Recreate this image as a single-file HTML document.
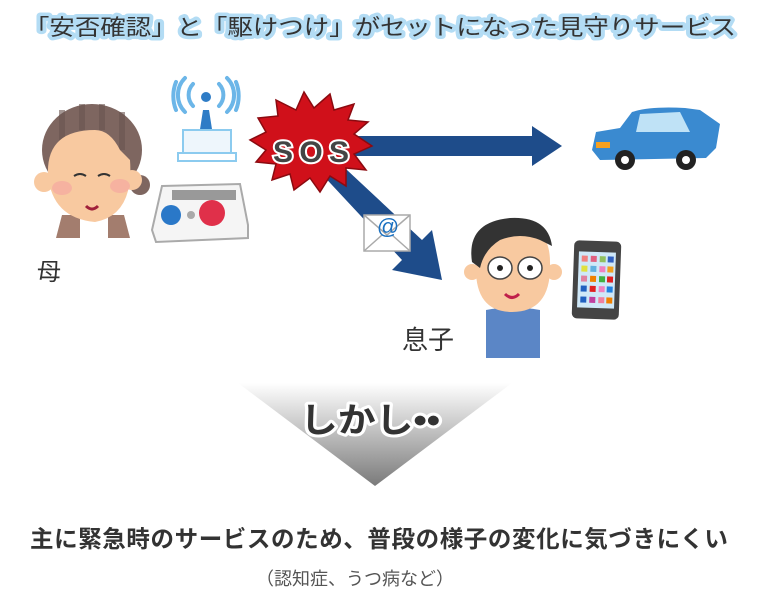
<!DOCTYPE html>
<html><head><meta charset="utf-8"><style>
html,body{margin:0;padding:0;background:#fff;}
body{width:760px;height:600px;position:relative;overflow:hidden;font-family:"Liberation Sans","Noto Sans CJK JP",sans-serif;}
.t{position:absolute;white-space:nowrap;}
</style></head><body>
<svg width="760" height="600" style="position:absolute;left:0;top:0">
<defs>
<linearGradient id="tri" x1="0" y1="0" x2="0" y2="1">
<stop offset="0" stop-color="#fff"/><stop offset="1" stop-color="#7a7a7a"/></linearGradient>
</defs>
<polygon points="238,383 512,383 375,486" fill="url(#tri)"/>
<polygon points="330,136 532,136 532,126 562,146 532,166 532,156 330,156" fill="#1e4c8a"/>
<polygon points="318,170 332,156 422,240 432,230 442,280 392,270 402,260" fill="#1e4c8a"/>
<polygon points="258,118 278,116 276,100 296,110 304,92 314,108 330,94 334,110 354,104 348,120 368,122 354,134 372,146 354,154 366,170 346,168 346,186 330,176 320,192 310,178 294,190 290,174 272,180 276,164 256,162 266,150 250,140 266,132" fill="#d0101a" stroke="#8b0a10" stroke-width="1.5"/>
<text x="311" y="162" text-anchor="middle" font-family="Liberation Sans,sans-serif" font-weight="bold" font-size="30" fill="#444" stroke="#fff" stroke-width="4" paint-order="stroke" textLength="76" lengthAdjust="spacing">SOS</text>
<g fill="none" stroke="#6cb6e8" stroke-width="4" stroke-linecap="round">
<path d="M193,84 a16,16 0 0 0 0,22"/><path d="M185,78 a24,24 0 0 0 0,34"/><path d="M176,82 a20,28 0 0 0 0,28"/>
<path d="M219,84 a16,16 0 0 1 0,22"/><path d="M227,78 a24,24 0 0 1 0,34"/><path d="M236,82 a20,28 0 0 1 0,28"/>
</g>
<circle cx="206" cy="97" r="5" fill="#2e7cc6"/>
<path d="M203,110 L209,110 L214,142 L198,142 Z" fill="#2e7cc6"/>
<rect x="183" y="130" width="48" height="30" fill="#eef6fc" stroke="#8ccbef" stroke-width="2"/>
<rect x="178" y="153" width="58" height="8" fill="#fff" stroke="#8ccbef" stroke-width="2"/>
<path d="M162,186 L240,184 L248,225 L248,238 L156,242 L152,230 Z" fill="#f5f5f5" stroke="#aaa" stroke-width="2"/>
<rect x="172" y="190" width="64" height="10" fill="#999"/>
<circle cx="171" cy="215" r="10" fill="#2a78c8"/>
<circle cx="191" cy="215" r="4" fill="#aaa"/>
<circle cx="212" cy="213" r="13" fill="#e0304a"/>
<ellipse cx="92" cy="150" rx="50" ry="46" fill="#7e6660"/>
<g stroke="#6a5550" stroke-width="6" opacity=".6"><line x1="62" y1="110" x2="62" y2="180"/><line x1="82" y1="104" x2="82" y2="130"/><line x1="102" y1="104" x2="102" y2="130"/><line x1="122" y1="112" x2="122" y2="150"/></g>
<circle cx="140" cy="185" r="10" fill="#7e6660"/>
<path d="M62,215 L124,215 L130,238 L56,238 Z" fill="#a37d6e"/>
<rect x="80" y="215" width="28" height="23" fill="#fff"/>
<path d="M48,175 Q46,130 95,130 Q110,130 120,150 L130,160 Q134,215 95,222 Q52,218 48,175 Z" fill="#f8c9a0"/>
<circle cx="44" cy="182" r="10" fill="#f8c9a0"/><circle cx="132" cy="180" r="10" fill="#f8c9a0"/>
<ellipse cx="62" cy="188" rx="10" ry="7" fill="#f5a8a0" opacity=".7"/><ellipse cx="120" cy="186" rx="10" ry="7" fill="#f5a8a0" opacity=".7"/>
<path d="M74,176 q6,-4 12,0 M98,176 q6,-4 12,0" stroke="#333" stroke-width="2" fill="none"/>
<path d="M86,206 q6,6 12,0" stroke="#a0203a" stroke-width="3" fill="none"/>
<rect x="364" y="215" width="46" height="36" fill="#fff" stroke="#aaa" stroke-width="1.5"/>
<path d="M364,215 L387,235 L410,215 M364,251 L382,235 M410,251 L392,235" stroke="#aaa" fill="none" stroke-width="1.5"/>
<text x="388" y="234" text-anchor="middle" font-size="22" fill="#1a70c0" font-family="Liberation Sans,sans-serif">@</text>
<path d="M592,150 L596,132 L620,128 L632,112 Q650,106 685,108 L700,110 L720,124 L716,148 L706,158 L600,160 Z" fill="#3a8ad0"/>
<path d="M640,114 L680,112 L690,132 L636,132 Z" fill="#bfe2f6"/>
<circle cx="625" cy="160" r="10" fill="#222"/><circle cx="625" cy="160" r="4" fill="#fff"/>
<circle cx="686" cy="160" r="10" fill="#222"/><circle cx="686" cy="160" r="4" fill="#fff"/>
<rect x="596" y="142" width="14" height="6" fill="#f6a020"/>
<path d="M486,310 Q512,305 540,310 L540,358 L486,358 Z" fill="#5b86c6"/>
<path d="M476,264 Q476,224 512,222 Q550,224 550,262 Q552,312 512,312 Q474,312 476,264 Z" fill="#f8c9a0"/>
<path d="M472,262 Q466,222 510,218 Q548,216 552,246 L540,240 Q520,232 500,240 Q484,250 480,268 Z" fill="#333"/>
<circle cx="472" cy="272" r="8" fill="#f8c9a0"/><circle cx="554" cy="272" r="8" fill="#f8c9a0"/>
<ellipse cx="500" cy="268" rx="12" ry="11" fill="#fff" stroke="#444" stroke-width="1.5"/><ellipse cx="530" cy="268" rx="12" ry="11" fill="#fff" stroke="#444" stroke-width="1.5"/>
<circle cx="500" cy="268" r="3" fill="#222"/><circle cx="530" cy="268" r="3" fill="#222"/>
<path d="M505,294 q7,7 14,0" stroke="#c0204a" stroke-width="3" fill="none"/>
<rect x="573" y="241" width="47" height="78" rx="5" fill="#444" transform="rotate(2 596 280)"/>
<rect x="578" y="252" width="37" height="56" fill="#cfe8f8" transform="rotate(2 596 280)"/>
<g transform="rotate(2 596 280)">
<rect x="581" y="256" width="6" height="6" fill="#f08080"/><rect x="590" y="256" width="6" height="6" fill="#e06080"/><rect x="599" y="256" width="6" height="6" fill="#90c060"/><rect x="607" y="256" width="6" height="6" fill="#3060c0"/>
<rect x="581" y="266" width="6" height="6" fill="#e0e040"/><rect x="590" y="266" width="6" height="6" fill="#60b0e0"/><rect x="599" y="266" width="6" height="6" fill="#f080c0"/><rect x="607" y="266" width="6" height="6" fill="#f0a020"/>
<rect x="581" y="276" width="6" height="6" fill="#e080a0"/><rect x="590" y="276" width="6" height="6" fill="#f08000"/><rect x="599" y="276" width="6" height="6" fill="#40b040"/><rect x="607" y="276" width="6" height="6" fill="#e02020"/>
<rect x="581" y="286" width="6" height="6" fill="#2060c0"/><rect x="590" y="286" width="6" height="6" fill="#e02020"/><rect x="599" y="286" width="6" height="6" fill="#f080c0"/><rect x="607" y="286" width="6" height="6" fill="#2080e0"/>
<rect x="581" y="297" width="6" height="6" fill="#2060c0"/><rect x="590" y="297" width="6" height="6" fill="#c040a0"/><rect x="599" y="297" width="6" height="6" fill="#f080a0"/><rect x="607" y="297" width="6" height="6" fill="#f08000"/>
</g>
<text x="380" y="35" text-anchor="middle" font-size="22" fill="#333" stroke="#b3dcf4" stroke-width="7" stroke-linejoin="round" paint-order="stroke" font-family="Liberation Sans,Noto Sans CJK JP,sans-serif" textLength="712" lengthAdjust="spacingAndGlyphs">「安否確認」と「駆けつけ」がセットになった見守りサービス</text>
<text x="370" y="432" text-anchor="middle" font-size="34" font-weight="bold" fill="#333" stroke="#fff" stroke-width="6" stroke-linejoin="round" paint-order="stroke" font-family="Liberation Sans,Noto Sans CJK JP,sans-serif" textLength="140" lengthAdjust="spacingAndGlyphs">しかし••</text>
</svg>
<div class="t" style="left:37px;top:252px;font-size:24px;color:#333;">母</div>
<div class="t" style="left:402px;top:320px;font-size:26px;color:#333;">息子</div>
<div class="t" style="left:30px;top:520px;width:700px;font-size:23.5px;font-weight:bold;color:#333;letter-spacing:0.6px;">主に緊急時のサービスのため、普段の様子の変化に気づきにくい</div>
<div class="t" style="left:256px;top:565px;font-size:18px;color:#555;">（認知症、うつ病など）</div>
</body></html>
